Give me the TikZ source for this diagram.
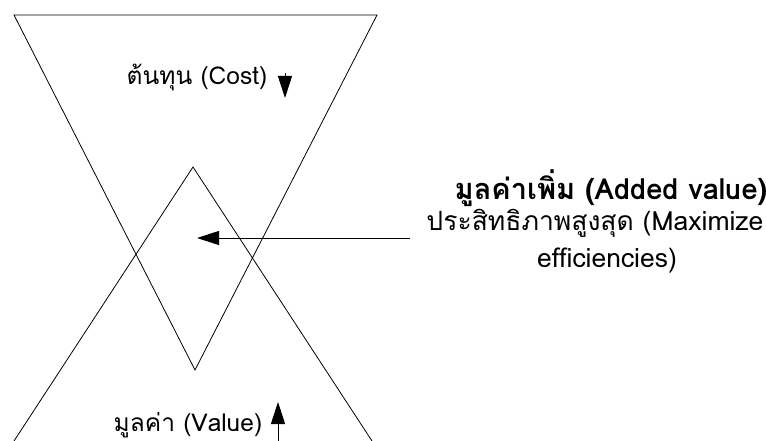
\documentclass[tikz,border=0pt]{standalone}
\usepackage{fontspec}
\setmainfont[Script=Thai]{Loma}
\usetikzlibrary{arrows.meta}

\begin{document}
\begin{tikzpicture}[
    x=1pt, y=-1pt,
    shape line/.style={line width=0.8pt},
    pointer/.style={line width=1pt, -{Triangle[length=22pt,width=14pt]}},
    every node/.style={font=\fontsize{24.5}{28}\selectfont, inner sep=0pt},
  ]
  \useasboundingbox (0,0) rectangle (766,441);

  \coordinate (costL) at (14,15);
  \coordinate (costR) at (377,15);
  \coordinate (costTip) at (195,370);
  \coordinate (valL) at (14,441);
  \coordinate (valR) at (372,441);
  \coordinate (valTip) at (193,167);

  \draw[shape line] (costL) -- (costR) -- (costTip) -- cycle;
  \draw[shape line] (valL) -- (valTip) -- (valR);

  \node (cost) at (197,77) {ต้นทุน (Cost)};
  \coordinate (costTop) at (285,73);
  \coordinate (costEnd) at (285,98);
  \draw[pointer] (costTop) -- (costEnd);

  \node (value) at (188,425) {มูลค่า (Value)};
  \coordinate (valBot) at (278,441);
  \coordinate (valEnd) at (278,402);
  \draw[pointer] (valBot) -- (valEnd);

  \node[font=\fontsize{29}{32}\selectfont\bfseries] (added) at (611,188) {มูลค่าเพิ่ม (Added value)};
  \node[font=\fontsize{26.5}{30}\selectfont] (maxim) at (595,223) {ประสิทธิภาพสูงสุด (Maximize};
  \node[font=\fontsize{26.5}{30}\selectfont] (effic) at (607,260) {efficiencies)};
  \coordinate (ptrStart) at (410,238);
  \coordinate (ptrEnd) at (197,238);
  \draw[pointer] (ptrStart) -- (ptrEnd);

\end{tikzpicture}
\end{document}
